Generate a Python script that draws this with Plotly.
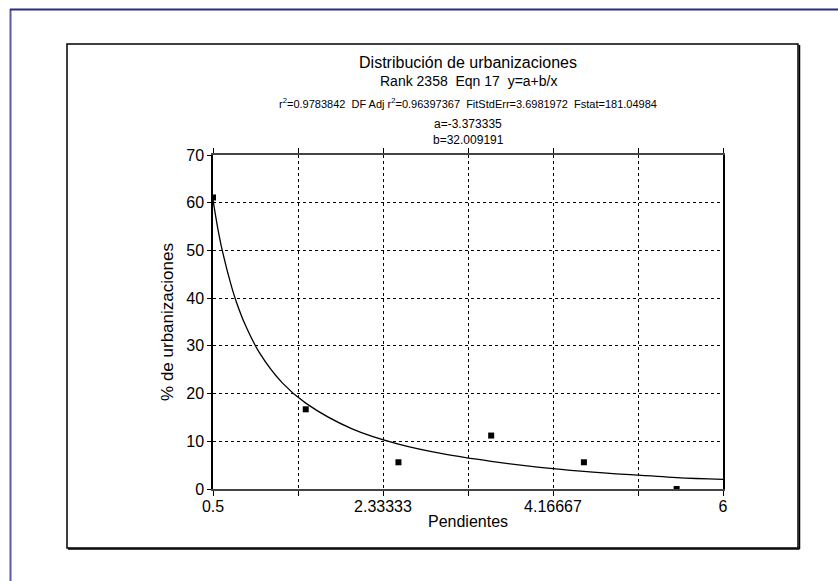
import plotly.graph_objects as go

# Observed data
pend = [0.5, 1.5, 2.5, 3.5, 4.5, 5.5]
urb = [61.1, 16.7, 5.6, 11.2, 5.6, 0.0]

# Fitted curve y=a+b/x
curve_x = [0.5, 0.55, 0.6, 0.7, 0.75, 0.85, 1.0, 1.25, 1.5, 2.0, 2.5, 3.0, 3.5, 4.0, 4.5, 5.0, 5.5, 6.0]
curve_y = [60.6, 54.8, 50.0, 42.4, 39.3, 34.3, 28.6, 22.2, 18.0, 12.6, 9.4, 7.3, 5.8, 4.6, 3.7, 3.0, 2.4, 2.0]

x_tickvals = [0.5, 2.33333, 4.16667, 6]
x_ticktext = ["0.5", "2.33333", "4.16667", "6"]
x_minorvals = [1.41667, 3.25, 5.08333]
y_tickvals = [0, 10, 20, 30, 40, 50, 60, 70]

main_title = "Distribución de urbanizaciones"
sub_lines = [
    ("Rank 2358  Eqn 17  y=a+b/x", 14),
    ("r<sup>2</sup>=0.9783842  DF Adj r<sup>2</sup>=0.96397367  FitStdErr=3.6981972  Fstat=181.04984", 11),
    ("a=-3.373335", 12),
    ("b=32.009191", 12),
]
sub_py = [81, 103, 124, 140]

W, H = 838, 581
L, R, T, B = 213, 723, 155, 489

def px_x(px):
    return (px - L) / (R - L)

def px_y(py):
    return (B - py) / (B - T)

fig = go.Figure()
fig.add_trace(go.Scatter(x=curve_x, y=curve_y, mode="lines", line=dict(color="black", width=1.3, shape="spline"),
                         hoverinfo="skip", showlegend=False))
fig.add_trace(go.Scatter(x=pend, y=urb, mode="markers", marker=dict(symbol="square", size=6, color="black"),
                         showlegend=False))

font = "Arial, Liberation Sans, sans-serif"
annotations = []
for (txt, sz), py in zip(sub_lines, sub_py):
    annotations.append(dict(text=txt, x=0.5, y=px_y(py), xref="paper", yref="paper", showarrow=False,
                            font=dict(size=sz, color="black", family=font), xanchor="center", yanchor="middle"))

shapes = [
    # blue outer frame
    dict(type="line", xref="paper", yref="paper", x0=px_x(10.5), x1=px_x(10.5), y0=px_y(9), y1=px_y(590),
         line=dict(color="#5a5aa8", width=2)),
    dict(type="line", xref="paper", yref="paper", x0=px_x(10), x1=px_x(850), y0=px_y(9.5), y1=px_y(9.5),
         line=dict(color="#2a2a88", width=2)),
    # inner black box
    dict(type="rect", xref="paper", yref="paper", x0=px_x(67), x1=px_x(798), y0=px_y(44), y1=px_y(548),
         line=dict(color="black", width=1.5)),
    dict(type="line", xref="paper", yref="paper", x0=px_x(68), x1=px_x(799.5), y0=px_y(549), y1=px_y(549),
         line=dict(color="black", width=1.5)),
    dict(type="line", xref="paper", yref="paper", x0=px_x(799.5), x1=px_x(799.5), y0=px_y(45), y1=px_y(549),
         line=dict(color="black", width=1.5)),
]

fig.update_layout(
    width=W, height=H,
    margin=dict(l=L, r=W - R, t=T, b=H - B),
    paper_bgcolor="white", plot_bgcolor="white",
    font=dict(family=font, size=16, color="black"),
    title=dict(text=main_title, x=(L + R) / 2 / W, xanchor="center", y=1 - 62 / H, yanchor="middle",
               font=dict(size=16, family=font, color="black")),
    annotations=annotations, shapes=shapes,
    showlegend=False,
)
fig.update_xaxes(range=[0.5, 6], tickmode="array", tickvals=x_tickvals, ticktext=x_ticktext,
                 title=dict(text="Pendientes", standoff=2, font=dict(size=16, family=font)),
                 automargin=False,
                 showgrid=True, gridcolor="black", griddash="dot", gridwidth=1,
                 minor=dict(tickmode="array", tickvals=x_minorvals, showgrid=True, gridcolor="black",
                            griddash="dot", gridwidth=1, ticks="outside", ticklen=5, tickcolor="black"),
                 showline=True, linecolor="#444", linewidth=1.5, mirror="ticks",
                 ticks="outside", ticklen=5, tickcolor="black", zeroline=False,
                 ticklabelstandoff=-3,
                 tickfont=dict(size=16, family=font))
fig.update_yaxes(range=[0, 70], tickmode="array", tickvals=y_tickvals,
                 title=dict(text="% de urbanizaciones", standoff=8, font=dict(size=17, family=font)),
                 automargin=False,
                 showgrid=True, gridcolor="black", griddash="dot", gridwidth=1,
                 showline=True, linecolor="black", linewidth=1.5, mirror=True,
                 ticks="outside", ticklen=4, tickcolor="black", zeroline=False,
                 tickfont=dict(size=16, family=font))

fig.write_html("out.html")
